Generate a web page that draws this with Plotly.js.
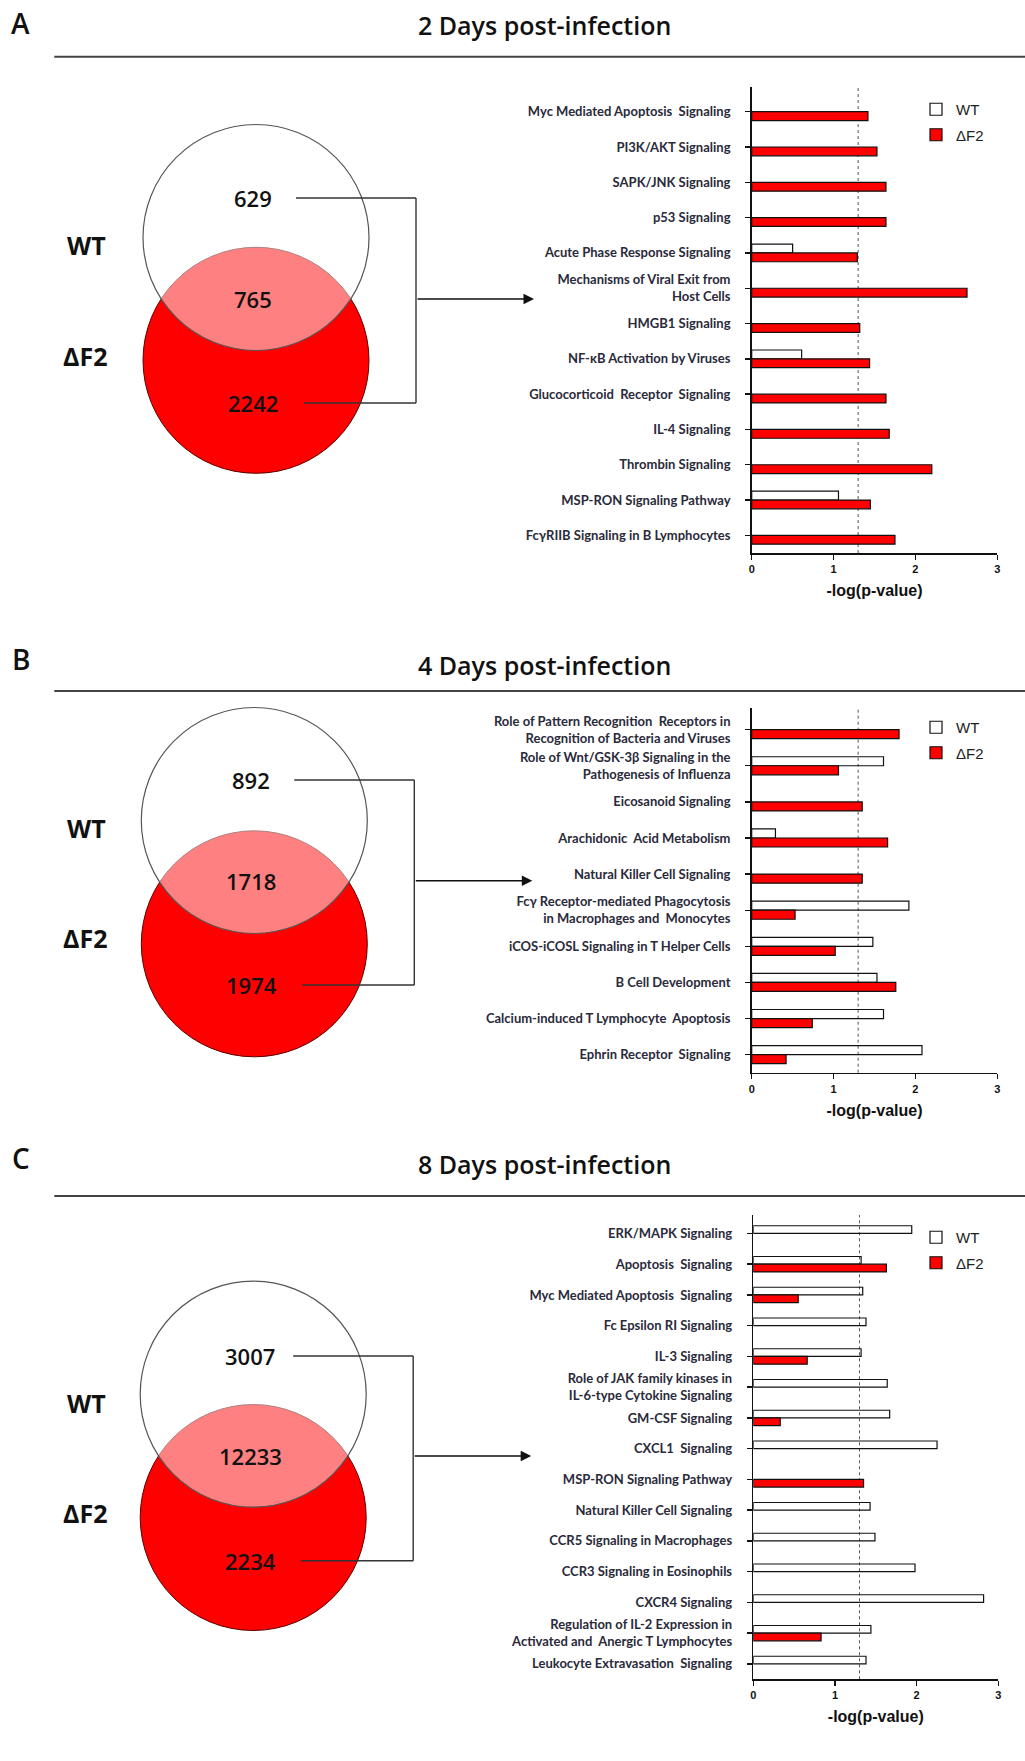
<!DOCTYPE html>
<html><head><meta charset="utf-8">
<script src="https://cdn.plot.ly/plotly-3.0.1.min.js"></script>
<style>html,body{margin:0;padding:0;background:#fff}#chart{width:1025px;height:1761px}</style>
</head><body><div id="chart"></div>
<script>
// ---------- DATA ----------
const panelLetters = ["A", "B", "C"];
const panelTitles = ["2 Days post-infection", "4 Days post-infection", "8 Days post-infection"];
const groupNames = ["WT", "ΔF2"];

// Venn counts: [WT only, shared, ΔF2 only]
const vennA = [629, 765, 2242];
const vennB = [892, 1718, 1974];
const vennC = [3007, 12233, 2234];

const catsA = ["Myc Mediated Apoptosis  Signaling", "PI3K/AKT Signaling", "SAPK/JNK Signaling", "p53 Signaling",
  "Acute Phase Response Signaling", "Mechanisms of Viral Exit from<br>Host Cells", "HMGB1 Signaling",
  "NF-κB Activation by Viruses", "Glucocorticoid  Receptor  Signaling", "IL-4 Signaling", "Thrombin Signaling",
  "MSP-RON Signaling Pathway", "FcγRIIB Signaling in B Lymphocytes"];
const wtA = [null, null, null, null, 0.50, null, null, 0.61, null, null, null, 1.06, null];
const dfA = [1.42, 1.53, 1.64, 1.64, 1.29, 2.63, 1.32, 1.44, 1.64, 1.68, 2.20, 1.45, 1.75];

const catsB = ["Role of Pattern Recognition  Receptors in<br>Recognition of Bacteria and Viruses",
  "Role of Wnt/GSK-3β Signaling in the<br>Pathogenesis of Influenza", "Eicosanoid Signaling",
  "Arachidonic  Acid Metabolism", "Natural Killer Cell Signaling",
  "Fcγ Receptor-mediated Phagocytosis<br>in Macrophages and  Monocytes", "iCOS-iCOSL Signaling in T Helper Cells",
  "B Cell Development", "Calcium-induced T Lymphocyte  Apoptosis", "Ephrin Receptor  Signaling"];
const wtB = [null, 1.61, null, 0.29, null, 1.92, 1.48, 1.53, 1.61, 2.08];
const dfB = [1.80, 1.06, 1.35, 1.66, 1.35, 0.53, 1.02, 1.76, 0.74, 0.42];

const catsC = ["ERK/MAPK Signaling", "Apoptosis  Signaling", "Myc Mediated Apoptosis  Signaling", "Fc Epsilon RI Signaling",
  "IL-3 Signaling", "Role of JAK family kinases in<br>IL-6-type Cytokine Signaling", "GM-CSF Signaling",
  "CXCL1  Signaling", "MSP-RON Signaling Pathway", "Natural Killer Cell Signaling", "CCR5 Signaling in Macrophages",
  "CCR3 Signaling in Eosinophils", "CXCR4 Signaling", "Regulation of IL-2 Expression in<br>Activated and  Anergic T Lymphocytes",
  "Leukocyte Extravasation  Signaling"];
const wtC = [1.94, 1.32, 1.34, 1.38, 1.32, 1.64, 1.67, 2.25, null, 1.43, 1.49, 1.98, 2.82, 1.44, 1.38];
const dfC = [null, 1.63, 0.55, null, 0.66, null, 0.33, null, 1.35, null, null, null, null, 0.83, null];

const xTickVals = [0, 1, 2, 3];
const xTitle = "-log(p-value)";
const threshold = 1.3;

// ---------- LAYOUT HELPERS ----------
const W = 1025, H = 1761;
const px = x => x / W;
const py = y => 1 - y / H;

const panels = [
  {cats: catsA, wt: wtA, df: dfA, venn: vennA, top: 87, bottom: 553, x0: 751.7, x1: 997.3, rTop: -0.7,
   letterY: 23, titleY: 25, ruleY: 56.7, cx: 256, cyWT: 237.5, cyDF: 360.3,
   nums: [198, 299, 403], lblWT: 245, lblDF: 356, legY: 93},
  {cats: catsB, wt: wtB, df: dfB, venn: vennB, top: 708, bottom: 1072.7, x0: 751.7, x1: 997.3, rTop: -0.6,
   letterY: 659, titleY: 665, ruleY: 691, cx: 254.3, cyWT: 820.5, cyDF: 943.8,
   nums: [780, 880.7, 985], lblWT: 827.7, lblDF: 937.7, legY: 711},
  {cats: catsC, wt: wtC, df: dfC, venn: vennC, top: 1215, bottom: 1679.3, x0: 753.3, x1: 998.3, rTop: -0.6,
   letterY: 1158, titleY: 1164, ruleY: 1196, cx: 253.2, cyWT: 1394.2, cyDF: 1517.5,
   nums: [1356, 1456, 1560.7], lblWT: 1403.3, lblDF: 1513.3, legY: 1221}
];

const traces = [];
const layout = {
  width: W, height: H, margin: {l: 0, r: 0, t: 0, b: 0},
  paper_bgcolor: "#fff", plot_bgcolor: "rgba(0,0,0,0)",
  barmode: "group", bargap: 0.5, bargroupgap: 0,
  font: {family: "Liberation Sans, Arial, sans-serif", color: "#111"},
  shapes: [], annotations: []
};

const R = 113;
const numFont = {family: "Open Sans, sans-serif", size: 22, color: "#111", weight: 600};
const lblFont = {family: "Open Sans, sans-serif", size: 25, color: "#111", weight: 700};
function note(x, y, text, font) {
  return {xref: "paper", yref: "paper", x: px(x), y: py(y), xanchor: "center", yanchor: "middle",
    text: text, showarrow: false, font: font};
}

panels.forEach((p, i) => {
  const k = i === 0 ? "" : String(i + 1);
  const xa = "x" + k, ya = "y" + k, leg = "legend" + k;
  traces.push({
    type: "bar", orientation: "h", name: groupNames[0], x: p.wt, y: p.cats, xaxis: xa, yaxis: ya,
    legend: leg, legendgroup: "wt" + i,
    marker: {color: "rgba(255,255,255,0)", line: {color: "#111", width: 1.2}}, hoverinfo: "x+y"
  });
  traces.push({
    type: "bar", orientation: "h", name: groupNames[1], x: p.df, y: p.cats, xaxis: xa, yaxis: ya,
    legend: leg, legendgroup: "df" + i,
    marker: {color: "#ff0000", line: {color: "#111", width: 1.2}}, hoverinfo: "x+y"
  });
  const n = p.cats.length;
  layout["xaxis" + k] = {
    domain: [px(p.x0), px(p.x1)], anchor: ya, range: [0, 3], tickvals: xTickVals,
    showgrid: false, zeroline: false, showline: true, linecolor: "#111", linewidth: 1.6,
    ticks: "outside", ticklen: 5, tickwidth: 1.4, tickcolor: "#111",
    tickfont: {family: "Liberation Sans, Arial, sans-serif", size: 11, color: "#111", weight: 700},
    title: {text: xTitle, standoff: 11, font: {family: "Liberation Sans, Arial, sans-serif", size: 16, color: "#111", weight: 700}},
    fixedrange: true
  };
  layout["yaxis" + k] = {
    domain: [py(p.bottom), py(p.top)], anchor: xa, type: "category",
    categoryorder: "array", categoryarray: p.cats, range: [n - 0.5, p.rTop],
    showgrid: false, zeroline: false, showline: true, linecolor: "#111", linewidth: 1.6,
    ticks: "outside", ticklen: 5, tickwidth: 1.4, tickcolor: "#111", ticklabelstandoff: 12,
    tickfont: {family: "Lato, sans-serif", size: 13, color: "#2a2a3a", weight: 700},
    fixedrange: true
  };
  layout[leg] = {
    x: px(916), y: py(p.legY), xanchor: "left", yanchor: "top", bgcolor: "rgba(0,0,0,0)",
    font: {family: "Liberation Sans, Arial, sans-serif", size: 15, color: "#222"},
    traceorder: "grouped", tracegroupgap: 3
  };
  // threshold dotted line
  layout.shapes.push({type: "line", xref: xa, yref: ya + " domain", x0: threshold, x1: threshold, y0: 0, y1: 1,
    line: {color: "#555", width: 1, dash: "dot"}, layer: "below"});
  // header rule
  layout.shapes.push({type: "line", xref: "paper", yref: "paper", x0: px(54.3), x1: 1, y0: py(p.ruleY), y1: py(p.ruleY),
    line: {color: "#444", width: 2}});
  // Venn circles
  layout.shapes.push({type: "circle", xref: "paper", yref: "paper",
    x0: px(p.cx - R), x1: px(p.cx + R), y0: py(p.cyDF + R), y1: py(p.cyDF - R),
    fillcolor: "#ff0000", line: {color: "#5a0000", width: 1}});
  layout.shapes.push({type: "circle", xref: "paper", yref: "paper",
    x0: px(p.cx - R), x1: px(p.cx + R), y0: py(p.cyWT + R), y1: py(p.cyWT - R),
    fillcolor: "rgba(255,255,255,0.5)", line: {color: "#555", width: 1.2}});
  // connector bracket
  const bx = p.cx + 160, ax0 = p.cx + 40;
  const segs = [[ax0, p.nums[0], bx, p.nums[0]], [bx, p.nums[0], bx, p.nums[2]], [ax0 + 8, p.nums[2], bx, p.nums[2]]];
  segs.forEach(s => layout.shapes.push({type: "line", xref: "paper", yref: "paper",
    x0: px(s[0]), y0: py(s[1]), x1: px(s[2]), y1: py(s[3]), line: {color: "#333", width: 1.4}}));
  layout.annotations.push({xref: "paper", yref: "paper", x: px(bx + 118), y: py(p.nums[1]),
    ax: px(bx), ay: py(p.nums[1]), axref: "paper", ayref: "paper", text: "", showarrow: true,
    arrowhead: 2, arrowsize: 1.4, arrowwidth: 1.5, arrowcolor: "#111", standoff: 0, startstandoff: 0});
  // texts
  layout.annotations.push(note(20.5, p.letterY, panelLetters[i], {family: "Open Sans, sans-serif", size: 28, color: "#111", weight: 600}));
  layout.annotations.push(note(544.5, p.titleY, panelTitles[i], {family: "Open Sans, sans-serif", size: 25, color: "#111", weight: 600}));
  p.venn.forEach((v, j) => layout.annotations.push(note(p.cx - 3, p.nums[j], String(v), numFont)));
  layout.annotations.push(note(86, p.lblWT, groupNames[0], lblFont));
  layout.annotations.push(note(85, p.lblDF, groupNames[1], lblFont));
});

Plotly.newPlot("chart", traces, layout, {displayModeBar: false, staticPlot: true});
</script></body></html>
